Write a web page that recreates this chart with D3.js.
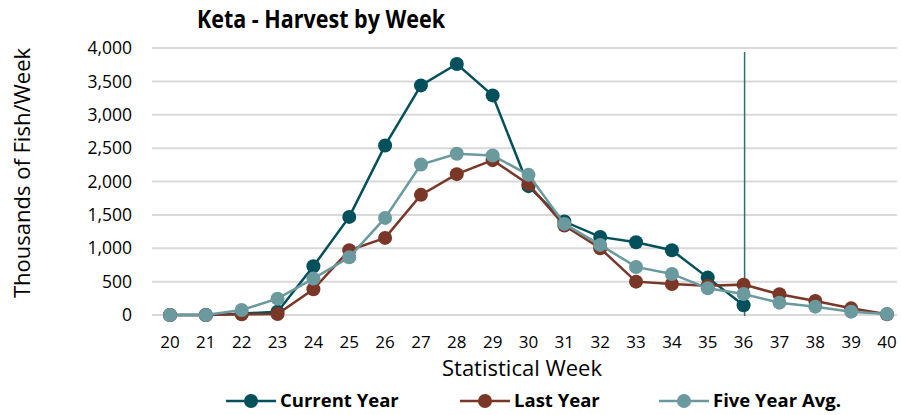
<!DOCTYPE html>
<html>
<head>
<meta charset="utf-8">
<script src="https://cdn.jsdelivr.net/npm/d3@7"></script>
<style>
  body { margin: 0; background: #fff; }
  svg text { font-family: "Open Sans", sans-serif; fill: #000; }
</style>
</head>
<body>
<svg id="chart" width="901" height="415"></svg>
<script>
// statistical weeks
var weeks = d3.range(20, 41);
var yTicks = [0, 500, 1000, 1500, 2000, 2500, 3000, 3500, 4000];

// thousands of fish per week
var currentYear = [0, 0, 20, 50, 730, 1470, 2540, 3440, 3760, 3290, 1930, 1400, 1170, 1090, 970, 560, 145];
var lastYear = [0, 0, 10, 15, 385, 970, 1155, 1800, 2110, 2320, 1960, 1340, 1000, 500, 465, 440, 455, 310, 210, 100, 10];
var fiveYearAvg = [0, 0, 75, 245, 545, 865, 1455, 2255, 2415, 2390, 2100, 1365, 1050, 720, 615, 400, 315, 185, 125, 50, 15];

var CURR_WEEK = 36;

var series = [
  {name: 'Current Year', values: currentYear, color: '#02505B'},
  {name: 'Last Year', values: lastYear, color: '#7A3727'},
  {name: 'Five Year Avg.', values: fiveYearAvg, color: '#6A999E'}
];

var svg = d3.select('#chart');

var x = d3.scalePoint().domain(weeks).range([170, 887]);
var y = d3.scaleLinear().domain([0, 4000]).range([315, 48]);

// gridlines
svg.append('g').selectAll('line')
  .data(yTicks).enter()
  .append('line')
    .attr('x1', 152).attr('x2', 897)
    .attr('y1', d => y(d)).attr('y2', d => y(d))
    .attr('stroke', '#D9D9D9')
    .attr('stroke-width', 2);

// y tick labels
svg.append('g').selectAll('text')
  .data(yTicks).enter()
  .append('text')
    .attr('x', 132)
    .attr('y', d => y(d))
    .attr('dy', '0.35em')
    .attr('text-anchor', 'end')
    .style('font-size', '17.5px')
    .text(d => d3.format(',')(d));

// x tick labels
svg.append('g').selectAll('text')
  .data(weeks).enter()
  .append('text')
    .attr('x', d => x(d))
    .attr('y', 342)
    .attr('dy', '0.35em')
    .attr('text-anchor', 'middle')
    .style('font-size', '17px')
    .text(d => d);

// current week marker
svg.append('line')
  .attr('x1', x(CURR_WEEK) + 1).attr('x2', x(CURR_WEEK) + 1)
  .attr('y1', 52).attr('y2', 316)
  .attr('stroke', '#2E6F78')
  .attr('stroke-width', 1.5);

var line = d3.line()
  .x((d, i) => x(weeks[i]))
  .y(d => y(d));

series.forEach(function(s) {
  var g = svg.append('g');
  g.append('path')
    .datum(s.values)
    .attr('d', line)
    .attr('fill', 'none')
    .attr('stroke', s.color)
    .attr('stroke-width', 2.5);
  g.selectAll('circle')
    .data(s.values).enter()
    .append('circle')
      .attr('cx', (d, i) => x(weeks[i]))
      .attr('cy', d => y(d))
      .attr('r', 7)
      .attr('fill', s.color);
});

// title
svg.append('text')
  .attr('x', 197)
  .attr('y', 28)
  .attr('textLength', 248)
  .attr('lengthAdjust', 'spacingAndGlyphs')
  .style('font-size', '25.5px')
  .style('font-weight', 'bold')
  .text('Keta - Harvest by Week');

// axis titles
svg.append('text')
  .attr('transform', 'translate(30,173) rotate(-90)')
  .attr('text-anchor', 'middle')
  .style('font-size', '22px')
  .text('Thousands of Fish/Week');

svg.append('text')
  .attr('x', 522)
  .attr('y', 368)
  .attr('dy', '0.35em')
  .attr('text-anchor', 'middle')
  .style('font-size', '22px')
  .text('Statistical Week');

// legend
var legendX = [226, 460, 659];
var legend = svg.append('g').selectAll('g')
  .data(series).enter()
  .append('g')
    .attr('transform', (d, i) => 'translate(' + legendX[i] + ',401)');
legend.append('line')
  .attr('x1', 0).attr('x2', 50)
  .attr('stroke', d => d.color)
  .attr('stroke-width', 2.5);
legend.append('circle')
  .attr('cx', 25).attr('r', 7)
  .attr('fill', d => d.color);
legend.append('text')
  .attr('x', 54)
  .attr('dy', '0.35em')
  .style('font-size', '18.5px')
  .style('font-weight', 'bold')
  .text(d => d.name);
</script>
</body>
</html>
